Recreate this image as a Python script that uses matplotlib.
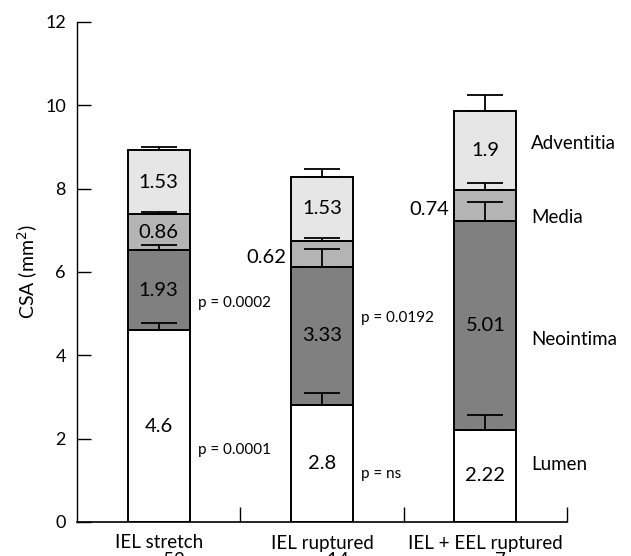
import numpy as np
import matplotlib.pyplot as plt
from matplotlib.ticker import FixedLocator

plt.rcParams['font.family'] = ['Lato', 'DejaVu Sans']

# data
groups = ["IEL stretch", "IEL ruptured", "IEL + EEL ruptured"]
n_labels = ["n = 52", "n = 14", "n = 7"]
layers = ["Lumen", "Neointima", "Media", "Adventitia"]
lumen = [4.6, 2.8, 2.22]
neointima = [1.93, 3.33, 5.01]
media = [0.86, 0.62, 0.74]
adventitia = [1.53, 1.53, 1.9]
lumen_sd = [0.17, 0.30, 0.35]
neointima_sd = [0.12, 0.43, 0.46]
media_sd = [0.05, 0.07, 0.16]
adventitia_sd = [0.07, 0.19, 0.37]
p_neointima = ["p = 0.0002", "p = 0.0192"]
p_lumen = ["p = 0.0001", "p = ns"]

colors = ["white", "#808080", "#b4b4b4", "#e6e6e6"]
values = [lumen, neointima, media, adventitia]
sds = [lumen_sd, neointima_sd, media_sd, adventitia_sd]

fig = plt.figure(figsize=(6.31, 5.56), dpi=100)
ax = fig.add_axes([77 / 631, 34 / 556, 490 / 631, 500 / 556])

x = np.arange(len(groups))
w = 0.38
bottom = np.zeros(len(groups))
for vals, err, col in zip(values, sds, colors):
    vals = np.array(vals)
    ax.bar(x, vals, w, bottom=bottom, color=col, edgecolor="black", linewidth=1.4, zorder=2)
    top = bottom + vals
    ax.errorbar(x, top, yerr=[np.zeros(len(x)), err], fmt="none", ecolor="black",
                elinewidth=1.3, capsize=13, capthick=1.3, zorder=3)
    for i in range(len(x)):
        mid = bottom[i] + vals[i] / 2
        label = f"{vals[i]:g}"
        if vals[i] < 0.8:
            ax.text(x[i] - w / 2 - 0.03, mid - 0.1, label, ha="right", va="center", fontsize=14.5)
        else:
            ax.text(x[i], mid, label, ha="center", va="center", fontsize=14.5, zorder=4)
    bottom = top

# p values between bars
p_neo_y = [5.25, 4.9]
p_lum_y = [1.73, 1.16]
for i in range(2):
    ax.text(i + 0.24, p_neo_y[i], p_neointima[i], ha="left", va="center", fontsize=11)
    ax.text(i + 0.24, p_lum_y[i], p_lumen[i], ha="left", va="center", fontsize=11)

# layer names on the right
layer_y = [1.37, 4.39, 7.3, 9.08]
for name, yy in zip(layers, layer_y):
    ax.text(2.28, yy, name, ha="left", va="center", fontsize=13.5)

ax.set_xlim(-0.5, 2.5)
ax.set_ylim(0, 12)
ax.set_yticks(np.arange(0, 13, 2))
ax.tick_params(axis="y", direction="in", length=10, width=1, labelsize=13, pad=8)
ax.set_xticks(x)
ax.set_xticklabels([f"{g}\n{n}" for g, n in zip(groups, n_labels)], fontsize=13.5, linespacing=1.0)
ax.tick_params(axis="x", which="major", length=0, pad=9)
ax.xaxis.set_minor_locator(FixedLocator([0.5, 1.5, 2.5]))
ax.tick_params(axis="x", which="minor", direction="in", length=11, width=1)
ax.set_ylabel("CSA (mm$^2$)", fontsize=14, labelpad=4)

for s in ["top", "right"]:
    ax.spines[s].set_visible(False)
ax.spines["left"].set_linewidth(1)
ax.spines["bottom"].set_linewidth(1.2)

fig.savefig("out.png", dpi=100)
